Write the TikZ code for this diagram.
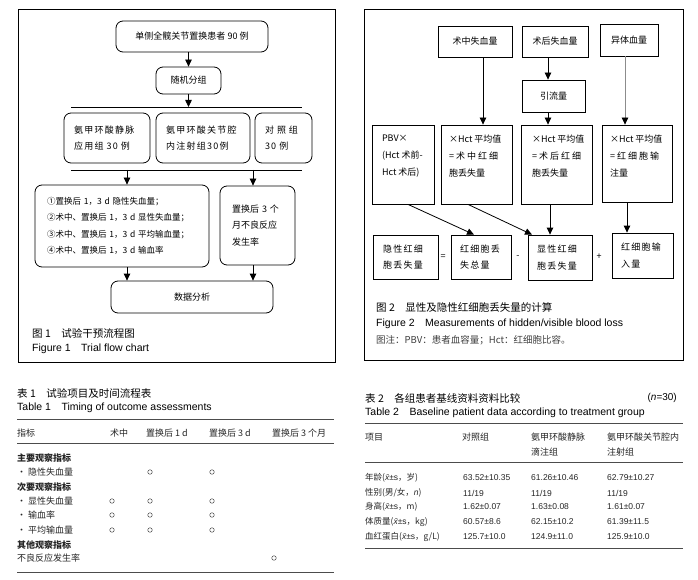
\documentclass[tikz,border=0pt]{standalone}
\usepackage{fontspec}
\setmainfont{Noto Sans CJK SC}
\newfontfamily\en{Liberation Sans}
\newfontfamily\wide[LetterSpace=14]{Noto Sans CJK SC}
\usetikzlibrary{arrows.meta,positioning}

\begin{document}
\begin{tikzpicture}[x=1pt, y=-1pt,
    rbox/.style={draw, line width=0.8pt, rounded corners=7pt, inner sep=0pt,
        font=\fontsize{9}{16.3}\selectfont},
    sbox/.style={draw, line width=0.8pt, inner sep=0pt,
        font=\fontsize{9}{17}\selectfont},
    widebox/.style={font=\wide\fontsize{9}{16.3}\selectfont},
    wh/.style 2 args={minimum width=#1, minimum height=#2},
    arr/.style={-{Triangle[length=7pt,width=6.5pt]}, line width=0.8pt},
    rule/.style={line width=0.6pt, black!70},
    figcap/.style={anchor=west, inner sep=0pt, font=\fontsize{10.5}{12}\selectfont},
    encap/.style={figcap, font=\en\fontsize{10.5}{12}\selectfont},
    cell/.style={anchor=west, inner sep=0pt, font=\fontsize{9}{15}\selectfont, text=black!85},
    num/.style={cell, font=\en\fontsize{8.5}{10}\selectfont},
    tickmark/.style={circle, draw=black!70, line width=0.5pt, minimum size=4.5pt, inner sep=0pt}]
    \useasboundingbox (0,0) rectangle (698,580);
    \fill[white] (0,0) rectangle (698,580);
    % Frames of the two figures
    \draw[line width=0.8pt] (18,9) rectangle (335,362);
    \draw[line width=0.8pt] (364,9) rectangle (683,360);

    % Figure 1: flow chart
    \node[rbox, wh={152}{31}] (patients) at (192,36.5) {单侧全髋关节置换患者 90 例};
    \node[rbox, wh={65}{27}] (random) at (188.5,80.5) {随机分组};
    \coordinate (splitw) at (71,107);
    \coordinate (splite) at (302,107);
    \node[rbox, widebox, wh={86}{50}, text width=66, align=left] (ivgroup) at (107,138) {氨甲环酸静脉\\应用组 30 例};
    \node[rbox, widebox, wh={94}{50}, text width=74, align=left] (iagroup) at (203,138) {氨甲环酸关节腔\\内注射组30例};
    \node[rbox, widebox, wh={57}{50}, text width=37, align=left] (ctlgroup) at (283.5,138) {对 照 组\\30 例};
    \coordinate (joinw) at (71,170);
    \coordinate (joine) at (302,170);
    \coordinate (joina) at (127,170);
    \coordinate (joinb) at (253,170);
    \node[rbox, wh={174}{82}, text width=150, align=left, font=\fontsize{8.5}{16.3}\selectfont] (outcomes) at (122,226)
        {①置换后 1，3 d 隐性失血量；\\②术中、置换后 1，3 d 显性失血量；\\③术中、置换后 1，3 d 平均输血量；\\④术中、置换后 1，3 d 输血率};
    \node[rbox, wh={75}{79}, text width=51, align=left] (adverse) at (257.5,225.5) {置换后 3 个\\月不良反应\\发生率};
    \node[rbox, wh={162}{32}] (analysis) at (192,297) {数据分析};
    \draw[line width=0.8pt] (splitw) -- (splite);
    \draw[line width=0.8pt] (joinw) -- (joine);
    \draw[arr] (random.north |- patients.south) -- (random.north);
    \draw[arr] (random.south) -- (random.south |- splitw);
    \draw[arr] (joina) -- (joina |- outcomes.north);
    \draw[arr] (joinb) -- (joinb |- adverse.north);
    \draw[arr] (outcomes.south -| joina) -- (analysis.north -| joina);
    \draw[arr] (adverse.south -| joinb) -- (analysis.north -| joinb);
    \node[figcap] (fig1zh) at (32,333) {图 1\quad 试验干预流程图};
    \node[encap] (fig1en) at (32,349) {Figure 1\quad Trial flow chart};

    % Figure 2: blood loss calculation
    \node[sbox, wh={74}{31}] (midloss) at (475,41.5) {术中失血量};
    \node[sbox, wh={66}{31}] (postloss) at (555,41.5) {术后失血量};
    \node[sbox, wh={58}{32}] (alloblood) at (629,40) {异体血量};
    \node[sbox, wh={63}{32}] (drainage) at (553.5,96) {引流量};
    \node[sbox, wh={62}{79}] (pbv) at (403,164.5) {};
    \node[sbox, wh={71}{79}] (midrbc) at (476.5,164.5) {};
    \node[sbox, wh={71}{79}] (postrbc) at (556.5,164.5) {};
    \node[sbox, wh={70}{77}] (transrbc) at (637,163.5) {};
    \node[sbox, draw=none, anchor=north west, align=left] (pbvtxt)
        at ([xshift=10pt, yshift=-10pt]pbv.north west) {PBV×\\(Hct 术前-\\Hct 术后)};
    \node[sbox, draw=none, anchor=north west, align=left] (midrbctxt)
        at ([xshift=8pt, yshift=-10pt]midrbc.north west) {×Hct 平均值\\= 术 中 红 细\\胞丢失量};
    \node[sbox, draw=none, anchor=north west, align=left] (postrbctxt)
        at ([xshift=11pt, yshift=-10pt]postrbc.north west) {×Hct 平均值\\= 术 后 红 细\\胞丢失量};
    \node[sbox, draw=none, anchor=north west, align=left] (transrbctxt)
        at ([xshift=8pt, yshift=-10pt]transrbc.north west) {×Hct 平均值\\= 红 细 胞 输\\注量};
    \node[sbox, widebox, wh={65}{44}, text width=45, align=left] (hidden) at (405.5,257) {隐性红细\\胞丢失量};
    \node[sbox, widebox, wh={60}{44}, text width=42, align=left] (totalrbc) at (481,257) {红细胞丢\\失总量};
    \node[sbox, widebox, wh={64}{45}, text width=46, align=left] (visible) at (560,257.5) {显性红细\\胞丢失量};
    \node[sbox, widebox, wh={61}{45}, text width=43, align=left] (inputrbc) at (642.5,255.5) {红细胞输\\入量};
    \node[sbox, draw=none] (eqop) at (443,257) {=};
    \node[sbox, draw=none] (minusop) at (518,257) {-};
    \node[sbox, draw=none] (plusop) at (599,257) {+};
    \draw[arr] ([xshift=8pt]midloss.south) -- ([xshift=6.5pt]midrbc.north);
    \draw[arr] ([xshift=-7pt]postloss.south) -- ([xshift=-5.5pt]drainage.north);
    \draw[arr] ([xshift=-5.5pt]drainage.south) -- ([xshift=-8.5pt]postrbc.north);
    \draw[arr, draw=black!45, -{Triangle[length=7pt,width=6.5pt,color=black]}]
        ([xshift=-4pt]alloblood.south) -- ([xshift=-12pt]transrbc.north);
    \draw[arr] ([xshift=5pt]pbv.south) -- ([xshift=-7pt]totalrbc.north);
    \draw[arr] ([xshift=-8.5pt]midrbc.south) -- ([xshift=-28pt]visible.north);
    \draw[arr] ([xshift=-6.5pt]postrbc.south) -- ([xshift=-10pt]visible.north);
    \draw[arr] ([xshift=-10pt]transrbc.south) -- ([xshift=-15.5pt]inputrbc.north);
    \node[figcap] (fig2zh) at (376,307) {图 2\quad 显性及隐性红细胞丢失量的计算};
    \node[encap] (fig2en) at (376,324) {Figure 2\quad Measurements of hidden/visible blood loss};
    \node[figcap, font=\fontsize{9.5}{11}\selectfont, text=black!75] (fig2note) at (376,340) {图注：PBV：患者血容量；Hct：红细胞比容。};

    % Table 1: timing of outcome assessments
    \node[figcap] (tab1zh) at (17,393) {表 1\quad 试验项目及时间流程表};
    \node[encap] (tab1en) at (17,408) {Table 1\quad Timing of outcome assessments};
    \foreach \ry in {419,443,572}
        \draw[rule] (17,\ry) -- (334,\ry);
    \foreach \cx/\txt [count=\i] in {17/指标, 110/术中, 146/置换后 1 d, 209/置换后 3 d, 272/置换后 3 个月}
        \node[cell] (head1-\i) at (\cx,433) {\txt};
    \foreach \ry/\txt [count=\i] in {458/{\bfseries 主要观察指标}, 472/• 隐性失血量,
            487/{\bfseries 次要观察指标}, 501/• 显性失血量, 515/• 输血率, 530/• 平均输血量,
            545/{\bfseries 其他观察指标}, 558/不良反应发生率}
        \node[cell] (item1-\i) at (17,\ry) {\txt};
    \foreach \cx/\ry [count=\i] in {150/472, 212/472, 112/501, 150/501, 212/501, 112/515,
            150/515, 212/515, 112/530, 150/530, 212/530, 274/558}
        \node[tickmark] (check-\i) at (\cx,\ry) {};

    % Table 2: baseline data
    \node[figcap] (tab2zh) at (365,398) {表 2\quad 各组患者基线资料资料比较};
    \node[figcap, anchor=east, font=\en\fontsize{10}{12}\selectfont] (tab2n) at (677,398) {(\textit{n}=30)};
    \node[encap] (tab2en) at (365,413) {Table 2\quad Baseline patient data according to treatment group};
    \foreach \ry in {423,462,548}
        \draw[rule] (365,\ry) -- (683,\ry);
    \node[cell] (head2-1) at (365,437) {项目};
    \node[cell] (head2-2) at (462,437) {对照组};
    \node[cell, align=left] (head2-3) at (531,444.5) {氨甲环酸静脉\\滴注组};
    \node[cell, align=left] (head2-4) at (607,444.5) {氨甲环酸关节腔内\\注射组};
    \foreach \ry/\lab/\va/\vb/\vc [count=\i] in {
            478/{年龄({\en\itshape x̄}{\en ±s}，岁)}/{63.52±10.35}/{61.26±10.46}/{62.79±10.27},
            493/{性别(男/女，{\en\itshape n})}/{11/19}/{11/19}/{11/19},
            507/{身高({\en\itshape x̄}{\en ±s}，m)}/{1.62±0.07}/{1.63±0.08}/{1.61±0.07},
            522/{体质量({\en\itshape x̄}{\en ±s}，kg)}/{60.57±8.6}/{62.15±10.2}/{61.39±11.5},
            537/{血红蛋白({\en\itshape x̄}{\en ±s}，g/L)}/{125.7±10.0}/{124.9±11.0}/{125.9±10.0}} {
        \node[cell, font=\fontsize{8.5}{10}\selectfont] (lab-\i) at (365,\ry) {\lab};
        \node[num] (ctl-\i) at (463,\ry) {\va};
        \node[num] (iv-\i) at (531,\ry) {\vb};
        \node[num] (ia-\i) at (607,\ry) {\vc};
    }
\end{tikzpicture}
\end{document}
